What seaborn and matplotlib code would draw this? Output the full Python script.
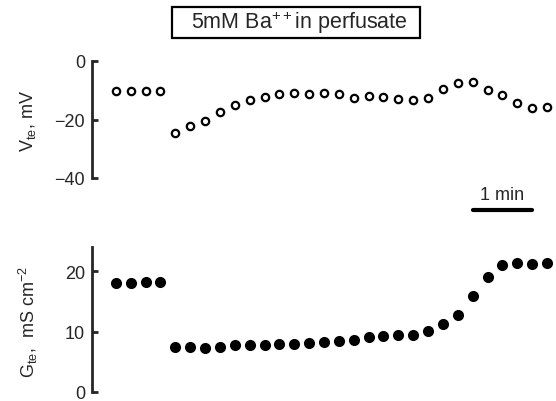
import numpy as np
import pandas as pd
import matplotlib
matplotlib.use("Agg")
import matplotlib.pyplot as plt
import matplotlib.transforms as mtransforms
from matplotlib.lines import Line2D
from matplotlib.patches import Rectangle
import seaborn as sns

# ---- data (one point every 15 s) ----
v_before = [-10.3, -10.3, -10.3, -10.4]
v_after = [-24.5, -22.3, -20.5, -17.4, -15.0, -13.3, -12.4, -11.4, -10.9, -11.2,
           -10.9, -11.4, -12.5, -11.8, -12.2, -13.0, -13.4, -12.5, -9.5, -7.4,
           -7.2, -9.8, -11.6, -14.4, -16.0, -15.8]
g_before = [18.1, 18.0, 18.2, 18.3]
g_after = [7.5, 7.4, 7.3, 7.4, 7.8, 7.7, 7.8, 8.0, 7.9, 8.1,
           8.2, 8.4, 8.6, 9.1, 9.3, 9.4, 9.4, 10.1, 11.3, 12.8,
           15.9, 19.1, 21.0, 21.4, 21.3, 21.4]
v_ticks = [0, -20, -40]
g_ticks = [0, 10, 20]
title_text = "5mM Ba$^{++}$in perfusate"
v_label = "V$_{\\rm te}$, mV"
g_label = "G$_{\\rm te}$,  mS cm$^{-2}$"
scale_label = "1 min"

vte = v_before + v_after
gte = g_before + g_after
t_min = np.arange(len(vte)) / 4.0
df = pd.DataFrame({"t": t_min, "V": vte, "G": gte})

sns.set_theme(style="ticks")
plt.rcParams["font.family"] = ["Liberation Sans", "DejaVu Sans"]
plt.rcParams["mathtext.fontset"] = "custom"
plt.rcParams["mathtext.rm"] = "Liberation Sans"
plt.rcParams["mathtext.it"] = "Liberation Sans"

W, H = 556, 402
fig = plt.figure(figsize=(W / 100, H / 100), dpi=100)

def fx(px):
    return px / W

def fy(py):
    return (H - py) / H

left = fx(92)
xlim = (-0.4, 7.4)
ax1 = fig.add_axes([left, fy(179), 1 - left, fy(62) - fy(179)])
ax2 = fig.add_axes([left, fy(392.7), 1 - left, fy(248.3) - fy(392.7)])

sns.scatterplot(data=df, x="t", y="V", ax=ax1, marker="o", s=28,
                facecolor="white", edgecolor="black", linewidth=1.6, legend=False)
sns.scatterplot(data=df, x="t", y="G", ax=ax2, marker="o", s=64,
                color="black", edgecolor="black", linewidth=0, legend=False)

ax1.set_ylim(-40, 0)
ax2.set_ylim(0, 24)
for ax, ticks in ((ax1, v_ticks), (ax2, g_ticks)):
    ax.set_xlim(*xlim)
    ax.set_yticks(ticks)
    ax.set_yticklabels([str(t).replace("-", "\u2212") for t in ticks])
    ax.set_xticks([])
    ax.set_xlabel("")
    for s in ("top", "right", "bottom"):
        ax.spines[s].set_visible(False)
    ax.spines["left"].set_linewidth(2.0)
    ax.tick_params(axis="y", direction="in", length=4, width=2, labelsize=13, pad=5)
    ax.patch.set_alpha(0)

ax1.set_ylabel("")
ax2.set_ylabel("")
fig.text(fx(28), fy(121), v_label, rotation=90, ha="center", va="center", fontsize=13)
fig.text(fx(28), fy(322), g_label, rotation=90, ha="center", va="center", fontsize=13)

# title box
fig.add_artist(Rectangle((fx(172), fy(39)), fx(420) - fx(172), fy(8) - fy(39),
                         transform=fig.transFigure, facecolor="white",
                         edgecolor="black", linewidth=1.6))
fig.text(fx(299), fy(23), title_text, ha="center", va="center", fontsize=15.5)

# scale bar: 1 min in data units
trans = mtransforms.blended_transform_factory(ax1.transData, fig.transFigure)
ax1.add_line(Line2D([6.0, 7.0], [fy(210.5), fy(210.5)], transform=trans,
                    color="black", linewidth=3, clip_on=False))
ax1.text(6.5, fy(204), scale_label, transform=trans, ha="center", va="bottom",
         fontsize=13, clip_on=False)

fig.savefig("out.png", dpi=100)
